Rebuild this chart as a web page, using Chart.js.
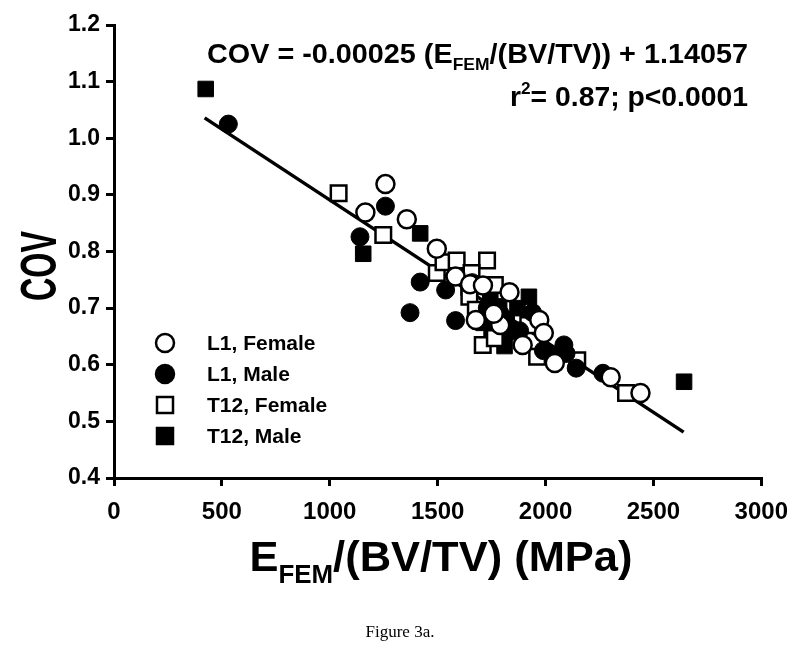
<!DOCTYPE html>
<html>
<head>
<meta charset="utf-8">
<script src="https://cdn.jsdelivr.net/npm/chart.js@4.4.1/dist/chart.umd.min.js"></script>
<style>
  html, body { margin: 0; padding: 0; background: #fff; }
  #wrap { width: 800px; height: 656px; }
</style>
</head>
<body>
<div id="wrap"><canvas id="chart" width="800" height="656"></canvas></div>
<script>
// values
const l1FemaleX = [1258, 1165, 1357, 1496, 1583, 1650, 1710, 1833, 1677, 1971, 1992, 1894, 2043, 2302, 2440, 1790, 1760];
const l1FemaleY = [0.919, 0.869, 0.857, 0.805, 0.756, 0.742, 0.740, 0.728, 0.679, 0.679, 0.656, 0.635, 0.603, 0.578, 0.550, 0.670, 0.690];

const l1MaleX = [530, 1258, 1140, 1372, 1419, 1537, 1583, 1940, 2085, 2095, 2142, 2266, 2040, 1837, 1730, 1660, 1790, 1880, 1990];
const l1MaleY = [1.025, 0.880, 0.826, 0.692, 0.746, 0.732, 0.678, 0.692, 0.635, 0.620, 0.594, 0.585, 0.615, 0.659, 0.700, 0.745, 0.690, 0.660, 0.625];

const t12FemaleX = [1041, 1248, 1496, 1527, 1588, 1729, 1657, 1647, 1647, 1765, 1677, 1709, 1765, 1961, 2147, 2373, 1920];
const t12FemaleY = [0.903, 0.829, 0.762, 0.781, 0.784, 0.784, 0.762, 0.738, 0.720, 0.741, 0.697, 0.635, 0.647, 0.614, 0.608, 0.550, 0.670];

const t12MaleX = [425, 2642, 1155, 1419, 1923, 1810, 1744, 1785, 1713, 1820, 2012, 1760, 1750, 1870];
const t12MaleY = [1.087, 0.570, 0.796, 0.832, 0.720, 0.633, 0.720, 0.703, 0.674, 0.680, 0.617, 0.690, 0.660, 0.700];

// regression line end points
const fitX = [420, 2640];
const fitY = [1.036, 0.481];

const seriesLabels = ["L1, Female", "L1, Male", "T12, Female", "T12, Male"];

const FONT = "'Liberation Sans', Arial, sans-serif";

function toPoints(xs, ys) {
  return xs.map((x, i) => ({ x: x, y: ys[i] }));
}

// draws text pieces (with sub/superscripts) on one baseline, squeezed to a width
function drawRich(ctx, parts, x, y, align, targetW) {
  let w = 0;
  parts.forEach(p => { ctx.font = p.font; p.w = ctx.measureText(p.text).width; w += p.w; });
  const s = targetW ? targetW / w : 1;
  const startX = align === "right" ? x - w * s : align === "center" ? x - w * s / 2 : x;
  ctx.save();
  ctx.translate(startX, y);
  ctx.scale(s, 1);
  ctx.textAlign = "left";
  ctx.textBaseline = "alphabetic";
  ctx.fillStyle = "#000";
  let cx = 0;
  parts.forEach(p => {
    ctx.font = p.font;
    ctx.fillText(p.text, cx, p.dy || 0);
    cx += p.w;
  });
  ctx.restore();
}

const textPlugin = {
  id: "figText",
  afterDraw(chart) {
    const ctx = chart.ctx;
    const big = "bold 28px " + FONT;
    const sub = "bold 17px " + FONT;

    // equation
    drawRich(ctx, [
      { text: "COV = -0.00025 (E", font: big },
      { text: "FEM", font: sub, dy: 7 },
      { text: "/(BV/TV)) + 1.14057", font: big }
    ], 748, 63, "right", 541);
    drawRich(ctx, [
      { text: "r", font: big },
      { text: "2", font: sub, dy: -12 },
      { text: "= 0.87; p<0.0001", font: big }
    ], 748, 106, "right", 238);

    // x title
    drawRich(ctx, [
      { text: "E", font: "bold 42px " + FONT },
      { text: "FEM", font: "bold 25px " + FONT, dy: 12 },
      { text: "/(BV/TV) (MPa)", font: "bold 42px " + FONT }
    ], 441, 571, "center", 383);

    // y title
    ctx.save();
    ctx.translate(56, 266);
    ctx.rotate(-Math.PI / 2);
    drawRich(ctx, [{ text: "COV", font: "bold 50px " + FONT }], 0, 0, "center", 70);
    ctx.restore();

    // legend
    const rows = [343, 374, 405, 436];
    const mx = 165;
    ctx.save();
    rows.forEach((ry, i) => {
      ctx.lineWidth = 2.5;
      ctx.strokeStyle = "#000";
      ctx.beginPath();
      if (i < 2) {
        ctx.arc(mx, ry, 9, 0, Math.PI * 2);
      } else {
        ctx.rect(mx - 8, ry - 8, 16, 16);
      }
      ctx.fillStyle = (i % 2 === 1) ? "#000" : "#fff";
      ctx.fill();
      ctx.stroke();
      ctx.fillStyle = "#000";
      ctx.font = "bold 21px " + FONT;
      ctx.textAlign = "left";
      ctx.textBaseline = "middle";
      ctx.fillText(seriesLabels[i], 207, ry + 1);
    });
    ctx.restore();

    // caption
    ctx.save();
    ctx.fillStyle = "#000";
    ctx.font = "17px 'Liberation Serif', 'Times New Roman', serif";
    ctx.textAlign = "center";
    ctx.textBaseline = "alphabetic";
    ctx.fillText("Figure 3a.", 400, 637);
    ctx.restore();
  }
};

const context = document.getElementById("chart").getContext("2d");
new Chart(context, {
  type: "scatter",
  data: {
    datasets: [
      {
        label: seriesLabels[0],
        data: toPoints(l1FemaleX, l1FemaleY),
        pointStyle: "circle",
        pointRadius: 9,
        pointBackgroundColor: "#fff",
        pointBorderColor: "#000",
        pointBorderWidth: 2.5,
        order: 1,
      },
      {
        label: seriesLabels[1],
        data: toPoints(l1MaleX, l1MaleY),
        pointStyle: "circle",
        pointRadius: 9,
        pointBackgroundColor: "#000",
        pointBorderColor: "#000",
        pointBorderWidth: 1,
        order: 2,
      },
      {
        label: seriesLabels[2],
        data: toPoints(t12FemaleX, t12FemaleY),
        pointStyle: "rect",
        pointRadius: 11,
        pointBackgroundColor: "#fff",
        pointBorderColor: "#000",
        pointBorderWidth: 2.5,
        order: 3,
      },
      {
        label: seriesLabels[3],
        data: toPoints(t12MaleX, t12MaleY),
        pointStyle: "rect",
        pointRadius: 11,
        pointBackgroundColor: "#000",
        pointBorderColor: "#000",
        pointBorderWidth: 1,
        order: 4,
      },
      {
        type: "line",
        label: "fit",
        data: toPoints(fitX, fitY),
        borderColor: "#000",
        borderWidth: 3.5,
        pointRadius: 0,
        fill: false,
        order: 10,
      },
    ],
  },
  options: {
    responsive: false,
    animation: false,
    layout: {
      padding: { left: 0, top: 25, right: 35, bottom: 0 },
    },
    plugins: {
      legend: { display: false },
      tooltip: { enabled: false },
    },
    scales: {
      x: {
        type: "linear",
        min: 0,
        max: 3000,
        ticks: {
          stepSize: 500,
          color: "#000",
          font: { family: FONT, size: 24, weight: "bold" },
          padding: 12,
          maxRotation: 0,
          callback: (v) => String(v),
        },
        grid: {
          drawOnChartArea: false,
          drawTicks: true,
          tickLength: 8,
          color: "#000",
          lineWidth: 3,
        },
        border: { display: true, color: "#000", width: 3 },
        afterFit(scale) { scale.height = 178; },
      },
      y: {
        type: "linear",
        min: 0.4,
        max: 1.2,
        ticks: {
          stepSize: 0.1,
          color: "#000",
          font: { family: FONT, size: 23, weight: "bold" },
          padding: 6,
          callback: (v) => v.toFixed(1),
        },
        grid: {
          drawOnChartArea: false,
          drawTicks: true,
          tickLength: 8,
          color: "#000",
          lineWidth: 3,
        },
        border: { display: true, color: "#000", width: 3 },
        afterFit(scale) { scale.width = 114; },
      },
    },
  },
  plugins: [textPlugin],
});
</script>
</body>
</html>
